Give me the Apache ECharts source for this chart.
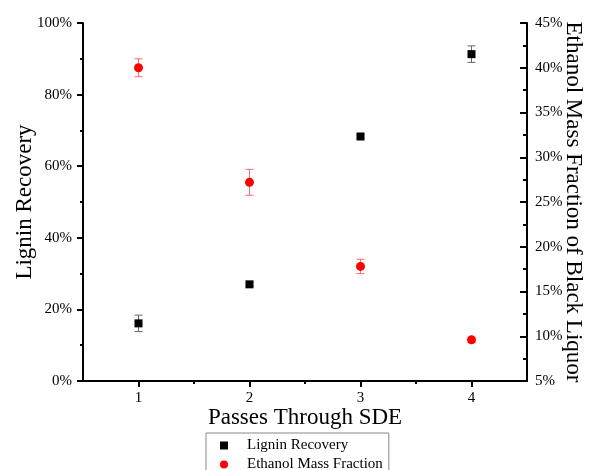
<!DOCTYPE html>
<html>
<head>
<meta charset="utf-8">
<script src="https://cdn.jsdelivr.net/npm/echarts@6/dist/echarts.min.js"></script>
<style>html,body{margin:0;padding:0;background:#fff;}#c{width:589px;height:470px;}</style>
</head>
<body>
<div id="c"></div>
<script>
const passes = [1, 2, 3, 4];
const ligninRecovery = [16.1, 27.0, 68.3, 91.3];
const ligninError = [2.3, 0.5, 0.5, 2.3];
const ethanolFraction = [40.0, 27.2, 17.8, 9.6];
const ethanolError = [1.0, 1.45, 0.8, 0.3];
const leftTicks = [0, 20, 40, 60, 80, 100];
const rightTicks = [5, 10, 15, 20, 25, 30, 35, 40, 45];

const FONT = 'Liberation Serif';
const chart = echarts.init(document.getElementById('c'), null, {renderer: 'canvas'});

function errBar(color) {
  return function (params, api) {
    const x = api.value(0), y = api.value(1), e = api.value(2);
    const t = api.coord([x, y + e]);
    const b = api.coord([x, y - e]);
    const hw = 4;
    const st = {stroke: color, lineWidth: 1};
    return {
      type: 'group',
      children: [
        {type: 'line', shape: {x1: t[0], y1: t[1], x2: b[0], y2: b[1]}, style: st},
        {type: 'line', shape: {x1: t[0] - hw, y1: t[1], x2: t[0] + hw, y2: t[1]}, style: st},
        {type: 'line', shape: {x1: b[0] - hw, y1: b[1], x2: b[0] + hw, y2: b[1]}, style: st}
      ]
    };
  };
}

const axisLineStyle = {color: '#000', width: 2};

chart.setOption({
  animation: false,
  backgroundColor: '#fff',
  textStyle: {fontFamily: FONT},
  grid: {left: 83, right: 62, top: 23, bottom: 89, containLabel: false, outerBoundsMode: 'none'},
  legend: {
    orient: 'vertical',
    left: 206, top: 433, height: 60,
    data: [
      {name: 'Lignin Recovery', icon: 'rect'},
      {name: 'Ethanol Mass Fraction', icon: 'circle'}
    ],
    itemWidth: 8, itemHeight: 8, itemGap: 4,
    padding: [5, 6, 12, 14],
    borderColor: '#888', borderWidth: 1,
    textStyle: {fontFamily: FONT, fontSize: 15, color: '#000', padding: [0, 0, 0, 14]}
  },
  xAxis: [{
    type: 'value', min: 0.5, max: 4.5,
    name: 'Passes Through SDE', nameLocation: 'middle', nameGap: 25, nameMoveOverlap: false,
    nameTextStyle: {fontFamily: FONT, fontSize: 23, color: '#000'},
    axisLine: {show: true, onZero: false, lineStyle: axisLineStyle},
    axisTick: {show: true, length: 6, customValues: passes, lineStyle: {width: 2, color: '#000'}},
    axisLabel: {customValues: passes, fontFamily: FONT, fontSize: 15, color: '#000', margin: 10},
    splitLine: {show: false}
  }, {
    type: 'value', min: 0.5, max: 4.5, position: 'bottom',
    axisLine: {show: false},
    axisTick: {show: true, length: 3, customValues: [1.5, 2.5, 3.5], lineStyle: {width: 2, color: '#000'}},
    axisLabel: {show: false},
    splitLine: {show: false}
  }],
  yAxis: [{
    type: 'value', min: leftTicks[0], max: leftTicks[leftTicks.length - 1], interval: 20,
    position: 'left',
    name: 'Lignin Recovery', nameLocation: 'middle', nameGap: 47, nameMoveOverlap: false,
    nameTextStyle: {fontFamily: FONT, fontSize: 23, color: '#000'},
    axisLine: {show: true, onZero: false, lineStyle: axisLineStyle},
    axisTick: {show: true, length: 6, lineStyle: {width: 2, color: '#000'}},
    minorTick: {show: true, splitNumber: 2, length: 3, lineStyle: {width: 2, color: '#000'}},
    axisLabel: {formatter: '{value}%', fontFamily: FONT, fontSize: 15, color: '#000', margin: 11},
    splitLine: {show: false}
  }, {
    type: 'value', min: rightTicks[0], max: rightTicks[rightTicks.length - 1], interval: 5,
    position: 'right',
    name: 'Ethanol Mass Fraction of Black Liquor', nameLocation: 'middle', nameGap: 35, nameRotate: -90, nameMoveOverlap: false,
    nameTextStyle: {fontFamily: FONT, fontSize: 23, color: '#000'},
    axisLine: {show: true, onZero: false, lineStyle: axisLineStyle},
    axisTick: {show: true, inside: true, length: 7, lineStyle: {width: 2, color: '#000'}},
    minorTick: {show: true, splitNumber: 2, length: 4, lineStyle: {width: 2, color: '#000'}},
    axisLabel: {formatter: '{value}%', fontFamily: FONT, fontSize: 15, color: '#000', margin: 8},
    splitLine: {show: false}
  }],
  series: [{
    type: 'custom', name: 'ligninErr', xAxisIndex: 0, yAxisIndex: 0, z: 1,
    renderItem: errBar('#666'),
    encode: {x: 0, y: 1},
    data: passes.map((p, i) => [p, ligninRecovery[i], ligninError[i]])
  }, {
    type: 'custom', name: 'ethanolErr', xAxisIndex: 0, yAxisIndex: 1, z: 1,
    renderItem: errBar('rgba(255,60,60,0.75)'),
    encode: {x: 0, y: 1},
    data: passes.map((p, i) => [p, ethanolFraction[i], ethanolError[i]])
  }, {
    type: 'scatter', name: 'Lignin Recovery', xAxisIndex: 0, yAxisIndex: 0, z: 3,
    symbol: 'rect', symbolSize: 8,
    itemStyle: {color: '#000', opacity: 1},
    data: passes.map((p, i) => [p, ligninRecovery[i]])
  }, {
    type: 'scatter', name: 'Ethanol Mass Fraction', xAxisIndex: 0, yAxisIndex: 1, z: 3,
    symbol: 'circle', symbolSize: 9,
    itemStyle: {color: '#ff0000', opacity: 1},
    data: passes.map((p, i) => [p, ethanolFraction[i]])
  }]
});
</script>
</body>
</html>
